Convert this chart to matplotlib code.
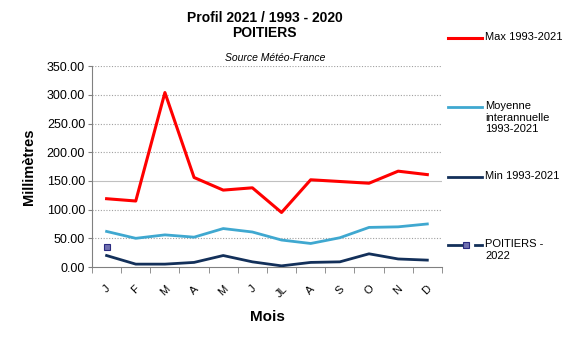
import numpy as np
import matplotlib.pyplot as plt
from matplotlib.lines import Line2D
from matplotlib.ticker import FormatStrFormatter, FixedLocator

plt.rcParams['font.family'] = ['Liberation Sans', 'DejaVu Sans']

# ===================== Données =====================
mois = ['J', 'F', 'M', 'A', 'M', 'J', 'JL', 'A', 'S', 'O', 'N', 'D']
max_9321 = [119, 115, 304, 156, 134, 138, 95, 152, 149, 146, 167, 161]
moy_9321 = [62, 50, 56, 52, 67, 61, 47, 41, 51, 69, 70, 75]
min_9321 = [20, 5, 5, 8, 20, 9, 2, 8, 9, 23, 14, 12]
poitiers_2022 = [35]

x = np.arange(len(mois))

# ===================== Figure =====================
fig = plt.figure(figsize=(5.68, 3.41), dpi=100)
ax = fig.add_axes([0.162, 0.217, 0.616, 0.589])

ax.plot(x, max_9321, color='#FF0000', lw=2.2, zorder=3)
ax.plot(x, moy_9321, color='#3FA8D0', lw=2.0, zorder=3)
ax.plot(x, min_9321, color='#13305A', lw=2.0, zorder=3)
ax.plot(x[:len(poitiers_2022)], poitiers_2022, ls='none', marker='s', ms=4.5,
        mfc='#7070B0', mec='#2A2A80', mew=0.8, zorder=4)

ax.set_xlim(-0.5, len(mois) - 0.5)
ax.set_ylim(0, 350)
ax.set_yticks(np.arange(0, 351, 50))
ax.yaxis.set_major_formatter(FormatStrFormatter('%.2f'))
ax.set_xticks(x)
ax.set_xticklabels(mois, rotation=45, ha='center', va='top', fontsize=8)
ax.xaxis.set_minor_locator(FixedLocator(np.arange(-0.5, len(mois), 1)))
ax.tick_params(axis='x', which='major', length=0, pad=12)
ax.tick_params(axis='x', which='minor', length=4, color='#808080', direction='out')
ax.tick_params(axis='y', length=3, color='#808080', labelsize=9, pad=2)

for v in np.arange(50, 351, 50):
    if v == 150:
        ax.axhline(v, color='#C0C0C0', lw=0.8, zorder=1)
    else:
        ax.axhline(v, color='#A0A0A0', lw=0.8, ls=(0, (1, 1.5)), zorder=1)

for s in ['top', 'right']:
    ax.spines[s].set_visible(False)
for s in ['left', 'bottom']:
    ax.spines[s].set_color('#808080')
    ax.spines[s].set_linewidth(0.8)

ax.set_ylabel('Millimètres', fontsize=10.5, fontweight='bold', labelpad=8)
ax.set_xlabel('Mois', fontsize=11, fontweight='bold', labelpad=8)

fig.text(0.466, 0.968, 'Profil 2021 / 1993 - 2020\nPOITIERS', ha='center', va='top',
         fontsize=10, fontweight='bold', linespacing=1.1)
fig.text(0.484, 0.83, 'Source Météo-France', ha='center', va='center',
         fontsize=7.5, style='italic')

# ===================== Légende =====================
W, H = 568, 341
entrees = [
    ('Max 1993-2021', dict(color='#FF0000', lw=2.2), 38),
    ('Moyenne\ninterannuelle\n1993-2021', dict(color='#3FA8D0', lw=2.0), 107),
    ('Min 1993-2021', dict(color='#13305A', lw=2.0), 177),
]
for texte, style, ypx in entrees:
    yf = 1 - ypx / H
    fig.add_artist(Line2D([448 / W, 482 / W], [yf, yf], transform=fig.transFigure, **style))
    fig.text(485 / W, yf + 6 / H, texte, ha='left', va='top', fontsize=8, linespacing=1.2)

yf = 1 - 245 / H
fig.add_artist(Line2D([448 / W, 466 / W], [yf, yf], transform=fig.transFigure,
                      color='#13305A', lw=2.0))
fig.add_artist(Line2D([475 / W, 482 / W], [yf, yf], transform=fig.transFigure,
                      color='#13305A', lw=2.0))
fig.add_artist(Line2D([466 / W], [yf], transform=fig.transFigure, ls='none',
                      marker='s', ms=4, mfc='#7070B0', mec='#2A2A80', mew=0.8))
fig.text(485 / W, yf + 6 / H, 'POITIERS -\n2022', ha='left', va='top', fontsize=8,
         linespacing=1.2)

fig.savefig('out.png', dpi=100)
